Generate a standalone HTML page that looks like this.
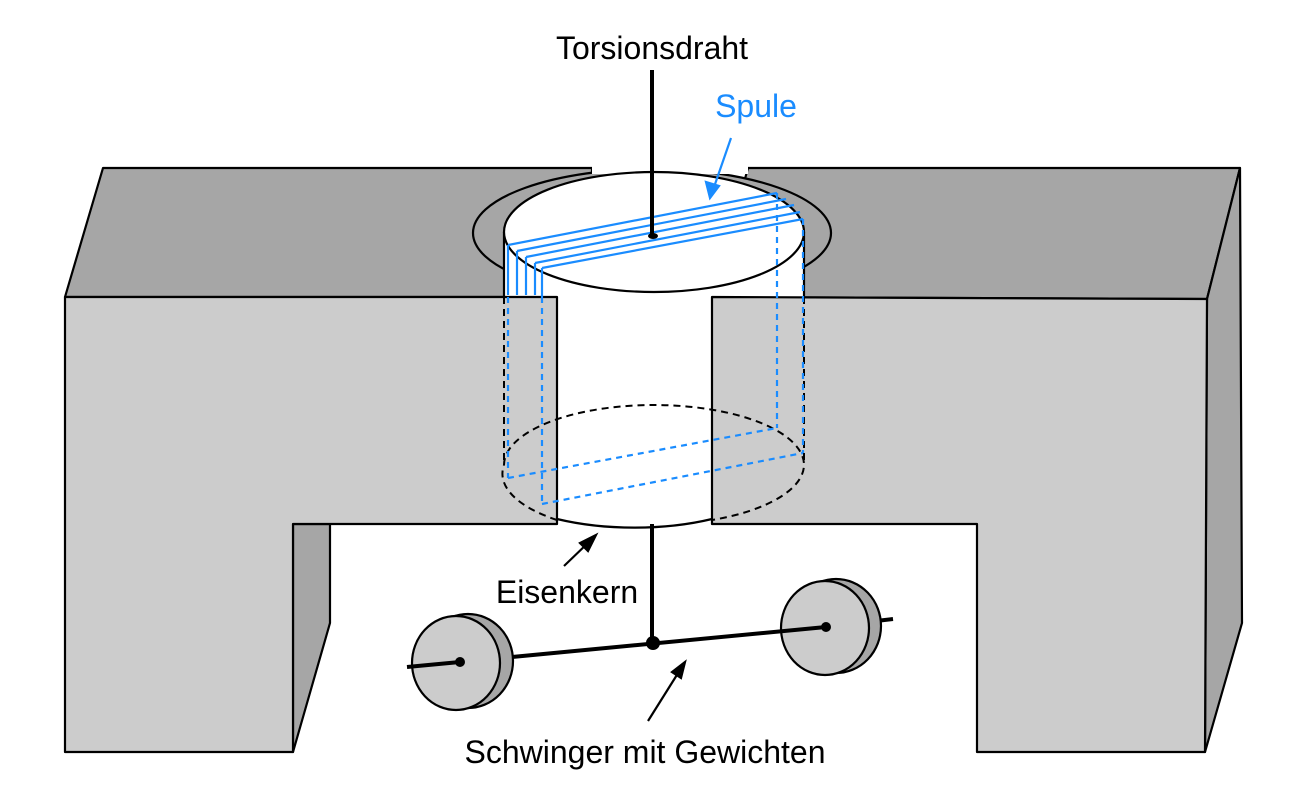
<!DOCTYPE html>
<html><head><meta charset="utf-8"><style>
html,body{margin:0;padding:0;background:#fff;width:1316px;height:798px;overflow:hidden}
text{font-family:"Liberation Sans","DejaVu Sans",sans-serif}
</style></head><body>
<svg width="1316" height="798" viewBox="0 0 1316 798">
<defs><clipPath id="below"><rect x="0" y="168" width="1316" height="700"/></clipPath></defs>
<g stroke="#000" stroke-width="2.2" stroke-linejoin="round">
<polygon points="65,297 103,168 592,168 592,297" fill="#a6a6a6"/>
<polygon points="748,168 1240,168 1207,299 712,297" fill="#a6a6a6"/>
<polygon points="1207,299 1240,168 1242,623 1205,752" fill="#a6a6a6"/>
<polygon points="293,524 330,524 330,623 293,752" fill="#a6a6a6"/>
<ellipse cx="652" cy="233" rx="179" ry="64" fill="#a6a6a6" clip-path="url(#below)"/>
<rect x="592" y="166" width="156" height="8" fill="#fff" stroke="none"/>
<rect x="504" y="232" width="300" height="233" fill="#fff" stroke="none"/>
<ellipse cx="654" cy="465" rx="150" ry="60" fill="#fff" stroke="none"/>
<line x1="504" y1="232" x2="504" y2="297"/><line x1="804" y1="232" x2="804" y2="297"/>
<ellipse cx="654" cy="232" rx="150" ry="60" fill="#fff"/>
<polygon points="65,297 557,297 557,524 293,524 293,752 65,752" fill="#cccccc"/>
<polygon points="712,297 1207,299 1205,752 977,752 977,524 712,524" fill="#cccccc"/>
<path d="M557,519 A150,60 0 0 0 712,519" fill="none"/>
</g>
<g fill="none" stroke="#000" stroke-width="2" stroke-dasharray="7,5">
<line x1="504" y1="297" x2="504" y2="465"/><line x1="804" y1="297" x2="804" y2="465"/>
<path d="M504,465 A150,60 0 1 1 804,465 A150,60 0 0 1 712,520 M557,520 A150,60 0 0 1 504,465"/>
</g>
<g stroke="#1a8cff" stroke-width="2.2" fill="none">
<line x1="508" y1="245" x2="777" y2="193"/><line x1="517" y1="251" x2="786" y2="199"/>
<line x1="526" y1="257" x2="794" y2="205"/><line x1="535" y1="263" x2="800" y2="212"/>
<line x1="542" y1="268" x2="803" y2="219"/>
<line x1="508" y1="245" x2="508" y2="295"/><line x1="517" y1="251" x2="517" y2="295"/>
<line x1="526" y1="257" x2="526" y2="295"/><line x1="535" y1="263" x2="535" y2="295"/>
<line x1="542" y1="268" x2="542" y2="297"/>
<g stroke-dasharray="6,5">
<line x1="508" y1="297" x2="508" y2="478"/><line x1="542" y1="297" x2="542" y2="504"/>
<line x1="777" y1="193" x2="777" y2="428"/><line x1="803" y1="219" x2="803" y2="453"/>
<line x1="508" y1="478" x2="777" y2="428"/><line x1="542" y1="504" x2="803" y2="453"/>
</g></g>
<line x1="652" y1="70" x2="652" y2="236" stroke="#000" stroke-width="4"/>
<ellipse cx="653" cy="236" rx="5" ry="3" fill="#000"/>
<line x1="652" y1="524" x2="652" y2="643" stroke="#000" stroke-width="4"/>
<line x1="876" y1="621" x2="893" y2="619" stroke="#000" stroke-width="4"/>
<g stroke="#000" stroke-width="2.2">
<ellipse cx="468" cy="661" rx="45" ry="47" fill="#a6a6a6"/>
<ellipse cx="456" cy="663" rx="44" ry="47" fill="#cccccc"/>
<ellipse cx="836" cy="626" rx="45" ry="47" fill="#a6a6a6"/>
<ellipse cx="825" cy="628" rx="44" ry="47" fill="#cccccc"/>
</g>
<g stroke="#000" stroke-width="4">
<line x1="407" y1="667" x2="460" y2="662"/><line x1="512" y1="657" x2="826" y2="627"/>
</g>
<circle cx="460" cy="662" r="5" fill="#000"/><circle cx="826" cy="627" r="5" fill="#000"/><circle cx="653" cy="643" r="7" fill="#000"/>
<g stroke="#000" stroke-width="2.2">
<line x1="564" y1="566" x2="590" y2="541"/><polygon points="596,535 580,543 588,551" fill="#000"/>
<line x1="648" y1="721" x2="680" y2="670"/><polygon points="685,662 672,672 681,678" fill="#000"/>
</g>
<g stroke="#1a8cff" stroke-width="2.2"><line x1="731" y1="138" x2="713" y2="190"/><polygon points="710,198 706,182 719,186" fill="#1a8cff"/></g>
<g font-size="32" fill="#000" text-anchor="middle">
<text x="652" y="59">Torsionsdraht</text>
<text x="756" y="117" fill="#1a8cff">Spule</text>
<text x="567" y="603">Eisenkern</text>
<text x="645" y="763">Schwinger mit Gewichten</text>
</g>
</svg>
</body></html>
